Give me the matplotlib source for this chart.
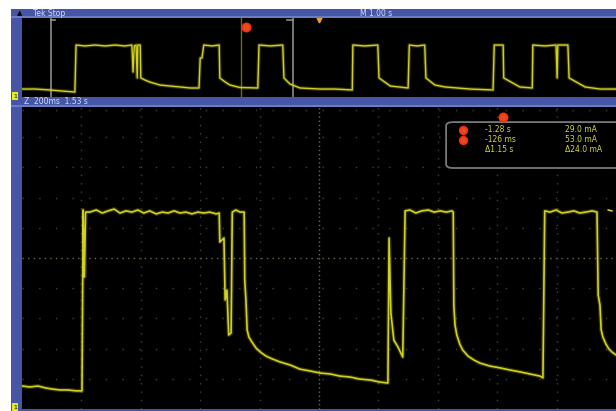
import matplotlib.pyplot as plt
from matplotlib.patches import Rectangle, FancyBboxPatch

# main (zoomed) trace, screen divisions: x 0..10, y -5..5
main_t = [0, 0.13, 0.27, 0.39, 0.51, 0.64, 0.77, 0.91, 1.01, 1.03, 1.05, 1.07,
          1.14, 1.25, 1.35, 1.45, 1.55, 1.65, 1.75, 1.85, 1.95, 2.05, 2.15, 2.26,
          2.36, 2.46, 2.56, 2.66, 2.76, 2.86, 2.96, 3.06, 3.16, 3.27, 3.32,
          3.33, 3.40, 3.42, 3.45, 3.48, 3.52, 3.54, 3.60, 3.67, 3.74, 3.75, 3.77,
          3.79, 3.82, 3.87, 3.94, 4.01, 4.11, 4.21, 4.34, 4.51, 4.68, 4.85, 5.02,
          5.19, 5.35, 5.52, 5.69, 5.86, 6.03, 6.16,
          6.18, 6.21, 6.26, 6.33, 6.41, 6.45, 6.53, 6.63, 6.73, 6.84, 6.94, 7.04,
          7.14, 7.24, 7.26,
          7.27, 7.29, 7.32, 7.37, 7.42, 7.51, 7.61, 7.71, 7.88, 8.05, 8.22, 8.38,
          8.55, 8.72, 8.77,
          8.80, 8.89, 8.99, 9.09, 9.19, 9.29, 9.39, 9.49, 9.60, 9.68,
          9.70, 9.73, 9.75, 9.78, 9.83, 9.88, 9.93, 10.0]
main_v = [-4.24, -4.27, -4.24, -4.30, -4.34, -4.37, -4.37, -4.40, -4.40, 1.59, -0.63, 1.52,
          1.52, 1.59, 1.49, 1.56, 1.62, 1.49, 1.56, 1.52, 1.59, 1.49, 1.56, 1.46,
          1.52, 1.49, 1.56, 1.49, 1.52, 1.46, 1.52, 1.49, 1.52, 1.46, 1.49,
          0.53, 0.66, -1.39, -1.06, -2.55, -2.48, 1.52, 1.59, 1.52, 1.52, -0.73, -1.39,
          -2.38, -2.62, -2.78, -2.98, -3.11, -3.25, -3.34, -3.44, -3.54, -3.68, -3.74, -3.81,
          -3.84, -3.91, -3.94, -4.01, -4.04, -4.11, -4.14,
          0.66, -1.82, -2.72, -2.95, -3.28, 1.56, 1.59, 1.49, 1.56, 1.59, 1.52, 1.56,
          1.52, 1.56, 1.52,
          -1.56, -2.22, -2.55, -2.85, -3.05, -3.25, -3.38, -3.48, -3.58, -3.64, -3.71, -3.77,
          -3.84, -3.91, -3.97,
          1.56, 1.52, 1.59, 1.49, 1.52, 1.56, 1.49, 1.52, 1.56, 1.52,
          -1.23, -1.56, -2.38, -2.62, -2.85, -3.01, -3.11, -3.21]
blip_t = [9.87, 9.93]
blip_v = [1.59, 1.56]

# overview trace, x 0..10 div, y 0..10
ov_t = [0, 0.22, 0.47, 0.67, 0.89, 0.91, 1.06, 1.23, 1.40, 1.57, 1.73, 1.85, 1.87, 1.89,
        1.92, 1.94, 1.95, 1.99, 2.00, 2.07, 2.15, 2.32, 2.49, 2.66, 2.83, 2.98, 3.00, 3.03,
        3.06, 3.20, 3.32, 3.33, 3.42, 3.50, 3.67, 3.97, 3.99, 4.18, 4.39, 4.41, 4.51, 4.68,
        5.02, 5.27, 5.56, 5.57, 5.77, 5.99, 6.01, 6.20, 6.50, 6.52, 6.65, 6.78, 6.80, 6.95,
        7.12, 7.54, 7.93, 7.95, 8.10, 8.11, 8.38, 8.59, 8.60, 8.80, 8.99, 9.01, 9.02, 9.19,
        9.21, 9.48, 9.73, 10.0]
ov_v = [1.01, 1.01, 0.89, 0.76, 0.63, 6.58, 6.46, 6.58, 6.46, 6.58, 6.46, 6.58, 3.16, 6.46,
        6.58, 2.41, 6.58, 6.58, 2.41, 2.15, 1.90, 1.52, 1.39, 1.27, 1.14, 1.14, 4.94, 4.94,
        6.58, 6.46, 6.58, 2.41, 1.90, 1.52, 1.20, 1.14, 6.58, 6.46, 6.58, 2.41, 1.65, 1.14,
        1.01, 1.01, 0.89, 6.58, 6.46, 6.58, 2.41, 1.39, 1.14, 6.58, 6.46, 6.58, 2.41, 1.52,
        1.27, 1.01, 0.89, 6.58, 6.58, 2.41, 1.27, 1.14, 6.58, 6.46, 6.58, 2.41, 6.58, 6.58,
        2.41, 1.27, 1.01, 1.01]

zoom_box = [0.49, 4.56]
cursor_x = 3.69

meas_left = ['-1.28 s', '-126 ms', 'Δ1.15 s']
meas_right = ['29.0 mA', '53.0 mA', 'Δ24.0 mA']

blue = '#4656a6'
trace = '#d2d21e'
W, H = 616, 411

fig = plt.figure(figsize=(6.16, 4.11), dpi=100, facecolor='white')


def px(x0, y0, x1, y1):
    return [x0 / W, 1 - y1 / H, (x1 - x0) / W, (y1 - y0) / H]


def bar(x0, y0, x1, y1, c=blue):
    l, b, w, h = px(x0, y0, x1, y1)
    fig.patches.append(Rectangle((l, b), w, h, transform=fig.transFigure,
                                 facecolor=c, edgecolor='none', zorder=0))


bar(11, 9, 22, 411)
bar(11, 9, 616, 18)
bar(11, 16.5, 616, 18, '#6c7cc4')
bar(11, 97, 616, 107)
bar(11, 105.5, 616, 107, '#6c7cc4')
bar(11, 409, 616, 411)

# overview window
ax0 = fig.add_axes(px(22, 18, 616, 97), facecolor='black')
ax0.set_xlim(0, 10)
ax0.set_ylim(0, 10)
ax0.axis('off')
ax0.add_patch(Rectangle((0, 0), 10, 10, facecolor='black', zorder=0))
ax0.plot(ov_t, ov_v, color=trace, lw=2.6, alpha=0.25, zorder=3)
ax0.plot(ov_t, ov_v, color=trace, lw=1.0, zorder=4)
for i, zx in enumerate(zoom_box):
    ax0.axvline(zx, color='#8c8c8c', lw=1.2, zorder=2)
    dx = 0.07 if i == 0 else -0.1
    ax0.plot([zx, zx + dx], [9.7, 9.7], color='#8c8c8c', lw=1.2, zorder=2)
ax0.axvline(cursor_x, color='#6e6e10', lw=1.0, zorder=2)
ax0.plot(3.77, 8.86, 'o', ms=6, mfc='#e05018', mec='#ff2a10', mew=1.2, zorder=5)
ax0.plot(5.0, 9.75, 'v', ms=3.5, color='#f0a020', zorder=5)

# main window
ax = fig.add_axes(px(22, 107, 616, 409), facecolor='black')
ax.set_xlim(0, 10)
ax.set_ylim(-5, 5)
ax.axis('off')
ax.add_patch(Rectangle((0, -5), 10, 10, facecolor='black', zorder=0))
for gx in range(1, 10):
    c = '#6a6a50' if gx == 5 else '#404040'
    ax.axvline(gx, color=c, lw=1.0, ls=(0, (1, 5)) if gx != 5 else (0, (1, 2)), zorder=1)
for gy in range(-4, 5):
    c = '#6a6a50' if gy == 0 else '#404040'
    ax.axhline(gy, color=c, lw=1.0, ls=(0, (1, 11)) if gy != 0 else (0, (1, 3)), zorder=1)
ax.axhline(4.9, color='#404040', lw=1.0, ls=(0, (1, 11)), zorder=1)

ax.plot(main_t, main_v, color=trace, lw=3.0, alpha=0.22, zorder=3)
ax.plot(main_t, main_v, color=trace, lw=1.2, zorder=4)
ax.plot(blip_t, blip_v, color=trace, lw=1.2, zorder=4)

# measurement readout
ax.add_patch(FancyBboxPatch((7.14, 2.98), 2.95, 1.52, boxstyle='round,pad=0,rounding_size=0.12',
                            facecolor='black', edgecolor='#7a7a7a', lw=1.3, zorder=5))
ax.plot(8.10, 4.67, 'o', ms=6, mfc='#e05018', mec='#ff2a10', mew=1.2, zorder=6)
rows_y = [4.24, 3.91, 3.58]
for i, ry in enumerate(rows_y):
    if i < 2:
        ax.plot(7.42, ry, 'o', ms=5.5, mfc='#e05018', mec='#ff2a10', mew=1.2, zorder=6)
    ax.text(7.79, ry, meas_left[i], color='#d8d830', fontsize=5.5, va='center', zorder=6)
    ax.text(9.14, ry, meas_right[i], color='#d8d830', fontsize=5.5, va='center', zorder=6)

# bar labels
fig.text(33 / W, 1 - 13.5 / H, 'Tek Stop', color='#d8dcf4', fontsize=5.5, va='center')
fig.text(17 / W, 1 - 13 / H, '▲', color='black', fontsize=5, va='center')
fig.text(360 / W, 1 - 13.5 / H, 'M 1.00 s', color='#d8dcf4', fontsize=5.5, va='center')
fig.text(24 / W, 1 - 102 / H, 'Z  200ms  1.53 s', color='#d8dcf4', fontsize=5.5, va='center')

# channel markers
for cy in [96, 407]:
    fig.text(15 / W, 1 - cy / H, '1', color='black', fontsize=4.5, ha='center', va='center',
             bbox=dict(boxstyle='square,pad=0.2', facecolor='#e8e820', edgecolor='none'))

fig.savefig('out.png', dpi=100, facecolor='white')
